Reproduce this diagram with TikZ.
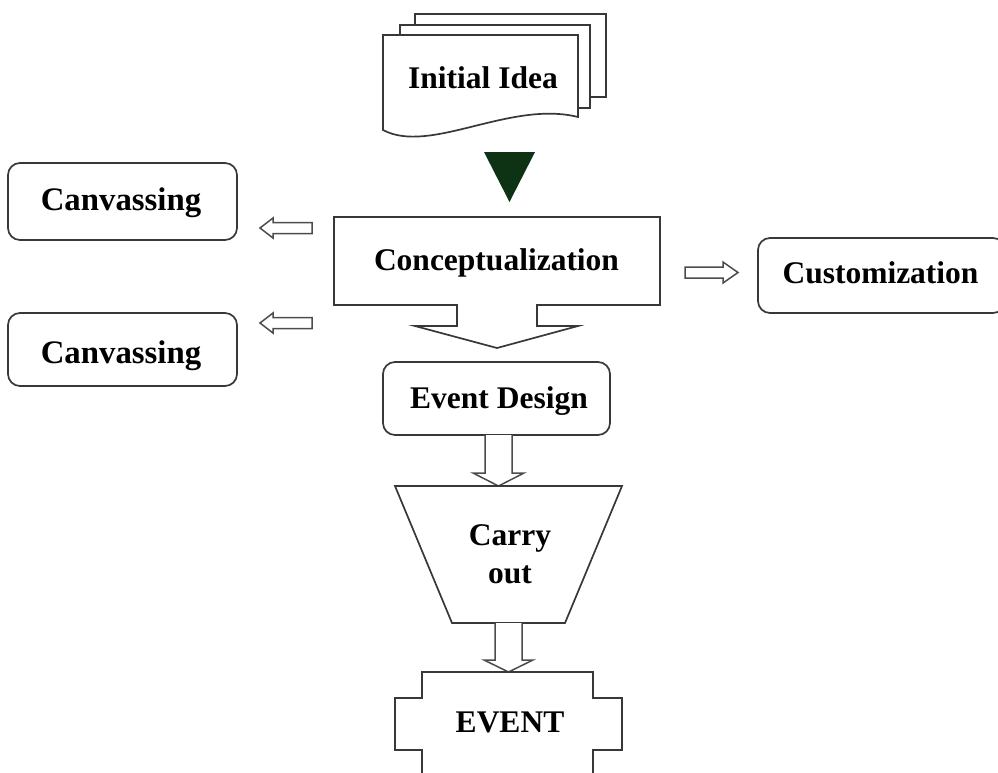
\documentclass[tikz,border=0pt]{standalone}
\usepackage{fontspec}
\setmainfont{Liberation Serif}
\begin{document}
\begin{tikzpicture}[x=1pt,y=-1pt,
  line width=1.7pt,
  outline/.style={draw=black!78, line join=miter},
  rbox/.style={outline, rounded corners=12pt},
  blockarrow/.style={draw=black!70, line width=1.5pt, fill=white, line join=miter},
  lbl/.style={font=\fontsize{31.5}{34}\selectfont\bfseries, anchor=base, inner sep=0pt},
  biglbl/.style={font=\fontsize{32.8}{36}\selectfont\bfseries, anchor=base, inner sep=0pt}]
\useasboundingbox (0,0) rectangle (998,772);

% stacked documents
\draw[outline, fill=white] (415,14) rectangle (606,97);
\draw[outline, fill=white] (400,25) rectangle (590,108);
\draw[outline, fill=white] (383,35) -- (578,35) -- (578,117)
  .. controls (510,100) and (430,155) .. (383,130) -- cycle;
\node[lbl] (idea) at (483,88) {Initial Idea};

% marker triangle
\fill[fill={rgb,255:red,14;green,50;blue,20}] (484,152) -- (535,152) -- (509.5,202) -- cycle;
\coordinate (marker) at (509.5,202);

% conceptualization with its down-arrow callout
\draw[outline, fill=white] (334,217) -- (660,217) -- (660,305) -- (537,305) -- (537,326)
  -- (578,326) -- (497,348) -- (415,326) -- (457,326) -- (457,305) -- (334,305) -- cycle;
\node[lbl] (concept) at (496.5,270) {Conceptualization};

% side boxes
\draw[rbox] (8,163) rectangle (237,240);
\node[biglbl] (canvA) at (121,210) {Canvassing};
\draw[rbox] (8,313) rectangle (237,386);
\node[biglbl] (canvB) at (121,363) {Canvassing};
\draw[rbox] (758,238) rectangle (1005,313);
\node[lbl] (custom) at (880.5,283) {Customization};

% side arrows
\draw[blockarrow] (312,222.5) -- (273,222.5) -- (273,218) -- (260,228) -- (273,238) -- (273,233.5) -- (312,233.5) -- cycle;
\draw[blockarrow] (312,317.5) -- (273,317.5) -- (273,313) -- (260,323) -- (273,333) -- (273,328.5) -- (312,328.5) -- cycle;
\draw[blockarrow] (685,267) -- (723,267) -- (723,262) -- (738,272.5) -- (723,283) -- (723,278) -- (685,278) -- cycle;

% event design
\draw[rbox] (383,362) rectangle (610,435);
\node[lbl] (design) at (499,408) {Event Design};

% arrow down to carry out
\draw[blockarrow] (485,435) -- (485,473) -- (473,473) -- (498.5,486) -- (524,473) -- (512,473) -- (512,435);

% carry out trapezoid
\draw[outline, fill=white] (395,486) -- (622,486) -- (565,623) -- (452,623) -- cycle;
\node[lbl] (carry) at (510,545) {Carry};
\node[lbl] (out) at (510,583) {out};

% arrow down to event
\draw[blockarrow] (495,623) -- (495,660) -- (484,660) -- (508.5,672) -- (533,660) -- (522,660) -- (522,623);

% event
\draw[outline, fill=white] (422,790) -- (422,750) -- (395,750) -- (395,698) -- (422,698) -- (422,672)
  -- (593,672) -- (593,698) -- (622,698) -- (622,750) -- (593,750) -- (593,790);
\node[lbl] (event) at (510,732) {EVENT};
\end{tikzpicture}
\end{document}
